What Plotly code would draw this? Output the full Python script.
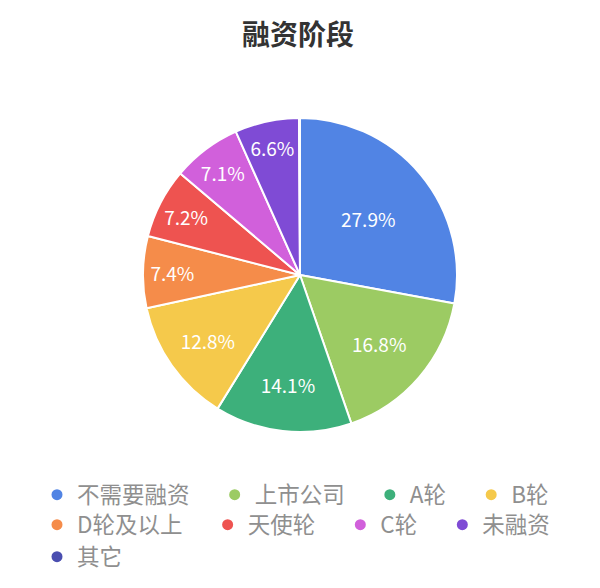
import plotly.graph_objects as go

labels = ["不需要融资", "上市公司", "A轮", "B轮", "D轮及以上", "天使轮", "C轮", "未融资", "其它"]
values = [27.9, 16.8, 14.1, 12.8, 7.4, 7.2, 7.1, 6.6, 0.1]
colors = ["#5184E4", "#9CCB63", "#3DB07B", "#F5C94B", "#F58C4A",
          "#EE5350", "#D160DB", "#7F4BD5", "#4A4EB0"]
legend_rows = [0, 0, 0, 0, 1, 1, 1, 1, 2]

W, H = 600, 588
OFF = 8  # page body margin in the browser
cx, cy, r = 300 - OFF, 275 - OFF, 157

texts = [f"{v}%" if v >= 1 else "" for v in values]

fig = go.Figure()
fig.add_trace(go.Pie(
    labels=labels, values=values, sort=False, direction="clockwise", rotation=0,
    marker=dict(colors=colors, line=dict(color="white", width=2)),
    text=texts, textinfo="text", textposition="inside",
    insidetextorientation="horizontal",
    textfont=dict(color="white", size=19, family="Noto Sans CJK SC"),
    hoverinfo="label+percent",
    showlegend=False,
    domain=dict(x=[(cx - r) / W, (cx + r) / W], y=[1 - (cy + r) / H, 1 - (cy - r) / H]),
))

nb = "\u00a0" * 4
legend_names = ["legend", "legend2", "legend3"]
for lab, col, row in zip(labels, colors, legend_rows):
    fig.add_trace(go.Scatter(
        x=[None], y=[None], mode="markers", name=lab + nb,
        marker=dict(color=col, size=11, symbol="circle"),
        showlegend=True, legend=legend_names[row],
    ))

row_y = [495, 525, 557]
leg_common = dict(orientation="h", xanchor="left", yanchor="middle",
                  font=dict(size=22.5, color="#8F8F8F", family="Noto Sans CJK SC"),
                  bgcolor="rgba(0,0,0,0)")

fig.update_layout(
    width=W, height=H,
    margin=dict(l=0, r=0, t=0, b=0),
    paper_bgcolor="white", plot_bgcolor="white",
    title=dict(text="<b>融资阶段</b>", x=(298 - OFF) / W, xanchor="center",
               y=1 - (35 - OFF) / H, yanchor="middle",
               font=dict(size=28, color="#333333", family="Noto Sans CJK SC")),
    xaxis=dict(visible=False), yaxis=dict(visible=False),
    legend=dict(x=(37 - OFF) / W, y=1 - (row_y[0] - OFF) / H, **leg_common),
    legend2=dict(x=(37 - OFF) / W, y=1 - (row_y[1] - OFF) / H, **leg_common),
    legend3=dict(x=(37 - OFF) / W, y=1 - (row_y[2] - OFF) / H, **leg_common),
)

fig.write_html("out.html")
